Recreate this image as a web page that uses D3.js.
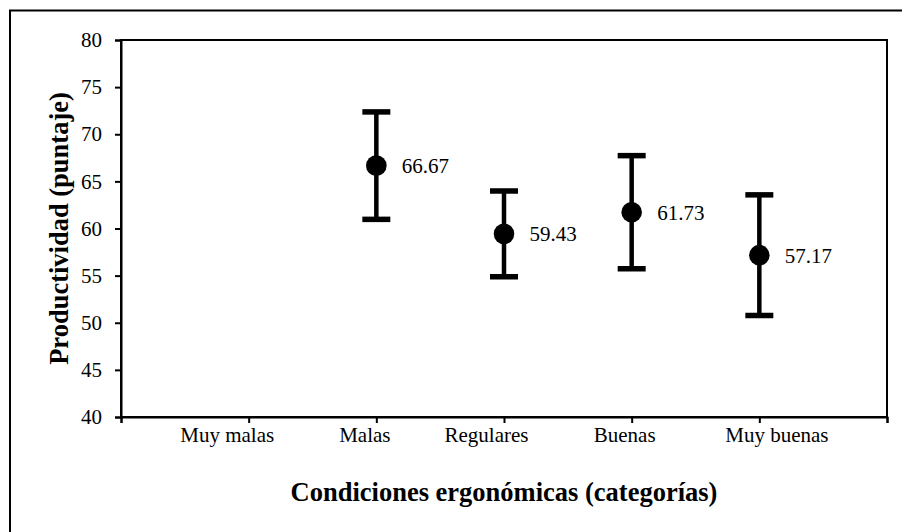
<!DOCTYPE html>
<html>
<head>
<meta charset="utf-8">
<script src="https://cdn.jsdelivr.net/npm/d3@7"></script>
<style>
  html, body { margin: 0; padding: 0; background: #fff; }
  svg { display: block; }
  text { font-family: "Liberation Serif", "Times New Roman", serif; fill: #000; }
</style>
</head>
<body>
<svg id="chart" width="902" height="532"></svg>
<script>
// ---- data ----
const categories = ["Muy malas", "Malas", "Regulares", "Buenas", "Muy buenas"];
const means      = [null, 66.67, 59.43, 61.73, 57.17];
const errors     = [null, 5.70, 4.55, 6.00, 6.40];
const meanLabels = ["", "66.67", "59.43", "61.73", "57.17"];
const yTicks     = [40, 45, 50, 55, 60, 65, 70, 75, 80];
const yTitle = "Productividad (puntaje)";
const xTitle = "Condiciones ergonómicas (categorías)";

// ---- layout ----
const W = 902, H = 532;
const plot = { left: 121, right: 887, top: 40, bottom: 417 };
// the category labels in the reference sit slightly off their tick marks
const labelShift = [-22, -12, -18, -7.5, 17];
const FONT = "Liberation Serif";

const svg = d3.select("#chart");

// outer chart-area border (only left & top visible in reference)
svg.append("rect")
  .attr("x", 10).attr("y", 10.5)
  .attr("width", 1200).attr("height", 1200)
  .attr("fill", "none").attr("stroke", "#000").attr("stroke-width", 2);

const x = d3.scaleLinear().domain([0, categories.length + 1]).range([plot.left, plot.right]);
const y = d3.scaleLinear().domain([40, 80]).range([plot.bottom, plot.top]);

// plot frame
svg.append("rect")
  .attr("x", plot.left).attr("y", plot.top)
  .attr("width", plot.right - plot.left).attr("height", plot.bottom - plot.top)
  .attr("fill", "none").attr("stroke", "#000").attr("stroke-width", 2);

// y axis
const yAxis = d3.axisLeft(y).tickValues(yTicks).tickSize(6).tickPadding(13).tickFormat(d3.format("d"));
const gy = svg.append("g").attr("transform", `translate(${plot.left},0)`).call(yAxis)
  .attr("font-family", FONT);
gy.select(".domain").attr("stroke-width", 2);
gy.selectAll(".tick line").attr("stroke-width", 2);
gy.selectAll(".tick text").attr("font-size", 21).attr("font-family", FONT);

// x axis: ticks 0..6, labels only at categories
const xTickVals = d3.range(0, categories.length + 2);
const xAxis = d3.axisBottom(x).tickValues(xTickVals).tickSize(6).tickPadding(0)
  .tickFormat(d => (d >= 1 && d <= categories.length) ? categories[d - 1] : "");
const gx = svg.append("g").attr("transform", `translate(0,${plot.bottom})`).call(xAxis)
  .attr("font-family", FONT);
gx.select(".domain").attr("stroke-width", 2);
gx.selectAll(".tick line").attr("stroke-width", 2);
gx.selectAll(".tick text").attr("font-size", 21).attr("font-family", FONT)
  .attr("y", 24.7).attr("dy", 0)
  .attr("x", d => (d >= 1 && d <= categories.length) ? labelShift[d - 1] : 0);

// error bars + points
const data = categories.map((c, i) => ({ c, i: i + 1, m: means[i], e: errors[i], label: meanLabels[i] }))
  .filter(d => d.m != null);

const g = svg.append("g");
const capHalf = 14;
g.selectAll("line.stem").data(data).enter().append("line")
  .attr("x1", d => x(d.i)).attr("x2", d => x(d.i))
  .attr("y1", d => y(d.m + d.e)).attr("y2", d => y(d.m - d.e))
  .attr("stroke", "#000").attr("stroke-width", 4.5);
g.selectAll("line.capHi").data(data).enter().append("line")
  .attr("x1", d => x(d.i) - capHalf).attr("x2", d => x(d.i) + capHalf)
  .attr("y1", d => y(d.m + d.e)).attr("y2", d => y(d.m + d.e))
  .attr("stroke", "#000").attr("stroke-width", 5.5);
g.selectAll("line.capLo").data(data).enter().append("line")
  .attr("x1", d => x(d.i) - capHalf).attr("x2", d => x(d.i) + capHalf)
  .attr("y1", d => y(d.m - d.e)).attr("y2", d => y(d.m - d.e))
  .attr("stroke", "#000").attr("stroke-width", 5.5);
g.selectAll("circle").data(data).enter().append("circle")
  .attr("cx", d => x(d.i)).attr("cy", d => y(d.m)).attr("r", 10.3).attr("fill", "#000");
g.selectAll("text.lbl").data(data).enter().append("text")
  .attr("x", d => x(d.i) + 25.5).attr("y", d => y(d.m) + 7.5)
  .attr("font-family", FONT).attr("font-size", 21).text(d => d.label);

// axis titles
svg.append("text")
  .attr("transform", `translate(67.5,${(plot.top + plot.bottom) / 2}) rotate(-90)`)
  .attr("text-anchor", "middle").attr("font-family", FONT)
  .attr("font-size", 26.5).attr("font-weight", "bold")
  .text(yTitle);
svg.append("text")
  .attr("x", (plot.left + plot.right) / 2).attr("y", 500.5)
  .attr("text-anchor", "middle").attr("font-family", FONT)
  .attr("font-size", 26.5).attr("font-weight", "bold")
  .text(xTitle);
</script>
</body>
</html>
